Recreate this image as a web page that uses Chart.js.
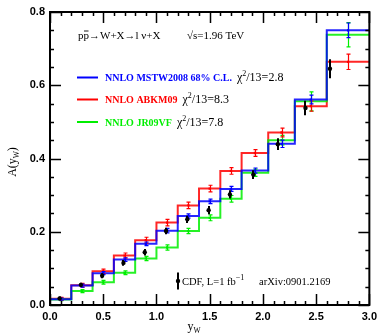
<!DOCTYPE html>
<html>
<head>
<meta charset="utf-8">
<script src="https://cdn.jsdelivr.net/npm/chart.js@4.4.1/dist/chart.umd.min.js"></script>
<style>
  html, body { margin: 0; padding: 0; background: #fff; }
  canvas { display: block; }
</style>
</head>
<body>
<canvas id="c" width="382" height="335" style="width:382px;height:335px"></canvas>
<script>
// W charge asymmetry A(y_W): CDF data vs. NNLO predictions (13 rapidity bins)
const binEdges = [0, 0.2, 0.4, 0.6, 0.8, 1.0, 1.2, 1.4, 1.6, 1.8, 2.05, 2.3, 2.6, 3.0];

const mstw    = [0.016, 0.053, 0.087, 0.124, 0.167, 0.203, 0.243, 0.283, 0.317, 0.367, 0.440, 0.561, 0.750];
const mstwErr = [0.003, 0.004, 0.004, 0.005, 0.005, 0.006, 0.006, 0.006, 0.007, 0.007, 0.010, 0.012, 0.020];

const abkm    = [0.017, 0.054, 0.092, 0.135, 0.177, 0.225, 0.272, 0.318, 0.366, 0.415, 0.471, 0.543, 0.664];
const abkmErr = [0.004, 0.005, 0.006, 0.007, 0.008, 0.009, 0.009, 0.009, 0.009, 0.009, 0.012, 0.014, 0.021];

const jr      = [0.015, 0.038, 0.062, 0.088, 0.127, 0.157, 0.202, 0.238, 0.290, 0.361, 0.450, 0.556, 0.738];
const jrErr   = [0.003, 0.004, 0.005, 0.005, 0.006, 0.007, 0.007, 0.008, 0.009, 0.010, 0.013, 0.026, 0.033];

const cdfX    = [0.09, 0.29, 0.49, 0.69, 0.89, 1.09, 1.29, 1.49, 1.69, 1.91, 2.14, 2.40, 2.63];
const cdf     = [0.018, 0.055, 0.080, 0.115, 0.144, 0.202, 0.234, 0.259, 0.302, 0.356, 0.439, 0.538, 0.645];
const cdfErr  = [0.005, 0.006, 0.007, 0.008, 0.009, 0.009, 0.010, 0.011, 0.011, 0.012, 0.016, 0.020, 0.026];

const xTicks = [0, 0.5, 1.0, 1.5, 2.0, 2.5, 3.0];
const yTicks = [0, 0.2, 0.4, 0.6, 0.8];

const seriesNames = ['NNLO MSTW2008 68% C.L.', 'NNLO ABKM09', 'NNLO JR09VF'];
const chi2Values  = ['2.8', '8.3', '7.8'];
const seriesColors = ['#0000ff', '#ff0000', '#00ee00'];

const SERIF = '"Liberation Serif", "Times New Roman", serif';
const SANS = '"Liberation Sans", Arial, sans-serif';

// histogram outline: one point per lower bin edge plus the closing edge
const steps = vals => binEdges.map((e, i) => ({ x: e, y: vals[Math.min(i, vals.length - 1)] }));
const centers = binEdges.slice(0, -1).map((e, i) => (e + binEdges[i + 1]) / 2);
const pts = (xs, vals) => vals.map((v, i) => ({ x: xs[i], y: v }));

function histDs(vals, color) {
  return { type: 'line', data: steps(vals), stepped: 'before', borderColor: color, borderWidth: 2,
           pointRadius: 0, fill: false, tension: 0 };
}
function pointDs(xs, vals, errs, color, opts) {
  return Object.assign({ type: 'scatter', data: pts(xs, vals), errors: errs,
    backgroundColor: color, borderColor: color, borderWidth: 0 }, opts);
}

// vertical error bars under each point set
const errorBars = {
  id: 'errorBars',
  beforeDatasetDraw(chart, args) {
    const ds = chart.data.datasets[args.index];
    if (!ds.errors) return;
    const ys = chart.scales.y, c = chart.ctx;
    c.save();
    c.strokeStyle = ds.borderColor;
    c.lineWidth = ds.barWidth;
    args.meta.data.forEach((el, i) => {
      const v = ds.data[i].y, e = ds.errors[i];
      const t = ys.getPixelForValue(v + e), b = ys.getPixelForValue(v - e);
      const x = Math.round(el.x) + (ds.barWidth % 2 ? 0.5 : 0);
      c.beginPath();
      c.moveTo(x, t); c.lineTo(x, b);
      if (ds.capWidth) {
        c.moveTo(x - ds.capWidth, t); c.lineTo(x + ds.capWidth, t);
        c.moveTo(x - ds.capWidth, b); c.lineTo(x + ds.capWidth, b);
      }
      c.stroke();
    });
    c.restore();
  }
};

// draw a sequence of text runs (font, colour, vertical shift) starting at x
function runsWidth(c, runs) {
  let w = 0;
  runs.forEach(r => { c.font = r.font; w += c.measureText(r.t).width + (r.gap || 0); });
  return w;
}
function drawRuns(c, x, y, runs) {
  runs.forEach(r => {
    c.font = r.font;
    c.fillStyle = r.color || '#000';
    c.fillText(r.t, x, y + (r.dy || 0));
    const w = c.measureText(r.t).width;
    if (r.over) {
      c.save(); c.strokeStyle = c.fillStyle; c.lineWidth = 0.9;
      c.beginPath(); c.moveTo(x + 0.5, y - 7.5); c.lineTo(x + w - 0.5, y - 7.5); c.stroke();
      c.restore();
    }
    x += w + (r.gap || 0);
  });
  return x;
}

// frame, inward ticks, titles, legend and annotations
const decorations = {
  id: 'decorations',
  afterDraw(chart) {
    const c = chart.ctx, a = chart.chartArea, xs = chart.scales.x, ys = chart.scales.y;
    c.save();
    c.strokeStyle = '#000';
    c.lineWidth = 1.5;
    c.beginPath();
    for (let k = 0; k <= 30; k++) {
      const v = k / 10, px = Math.round(xs.getPixelForValue(v)) + 0.5;
      const len = (k % 5 === 0) ? 11 : 4;
      c.moveTo(px, a.bottom); c.lineTo(px, a.bottom - len);
      c.moveTo(px, a.top); c.lineTo(px, a.top + len);
    }
    for (let k = 0; k <= 16; k++) {
      const v = k * 0.05, py = Math.round(ys.getPixelForValue(v)) + 0.5;
      const len = (k % 4 === 0) ? 11 : 4;
      c.moveTo(a.left, py); c.lineTo(a.left + len, py);
      c.moveTo(a.right, py); c.lineTo(a.right - len, py);
    }
    c.stroke();
    c.lineWidth = 2;
    c.strokeRect(a.left, a.top, a.right - a.left, a.bottom - a.top);

    c.textBaseline = 'alphabetic';
    c.textAlign = 'left';
    const f11 = '11px ' + SERIF, f8 = '8px ' + SERIF;

    // process and energy
    drawRuns(c, 78, 38.5, [
      { t: 'p', font: f11 }, { t: 'p', font: f11, over: true },
      { t: '\u2192W+X\u2192l \u03BD+X', font: f11 }
    ]);
    drawRuns(c, 187, 38.5, [{ t: '\u221As=1.96 TeV', font: f11 }]);

    // legend
    const rowsY = [77.5, 99.5, 122];
    const fLeg = 'bold 10px ' + SERIF, fChi = '12px ' + SERIF, fSup = '8px ' + SERIF;
    seriesNames.forEach((name, i) => {
      const y = rowsY[i];
      c.strokeStyle = seriesColors[i];
      c.lineWidth = 2;
      c.beginPath(); c.moveTo(77, y); c.lineTo(98, y); c.stroke();
      const xe = drawRuns(c, 105, y + 3.5, [{ t: name, font: fLeg, color: seriesColors[i] }]);
      drawRuns(c, xe + 5, y + 3.5, [
        { t: '\u03C7', font: fChi }, { t: '2', font: fSup, dy: -5 },
        { t: '/13=' + chi2Values[i], font: fChi }
      ]);
    });

    // data legend
    c.strokeStyle = '#000';
    c.lineWidth = 2;
    c.beginPath(); c.moveTo(178, 272.5); c.lineTo(178, 289.5); c.stroke();
    c.fillStyle = '#000';
    c.beginPath(); c.arc(178, 281, 2.2, 0, Math.PI * 2); c.fill();
    drawRuns(c, 182, 284.5, [
      { t: 'CDF, L=1 fb', font: '10.5px ' + SERIF }, { t: '\u22121', font: f8, dy: -5 }
    ]);
    drawRuns(c, 259, 284.5, [{ t: 'arXiv:0901.2169', font: '10.5px ' + SERIF }]);

    // axis titles
    const xRuns = [{ t: 'y', font: '12px ' + SERIF }, { t: 'W', font: '7.5px ' + SERIF, dy: 2.5 }];
    drawRuns(c, 194 - runsWidth(c, xRuns) / 2, 330, xRuns);
    c.translate(16, 162);
    c.rotate(-Math.PI / 2);
    const yRuns = [{ t: 'A(y', font: '12px ' + SERIF }, { t: 'W', font: '7.5px ' + SERIF, dy: 2.5 },
                   { t: ')', font: '12px ' + SERIF }];
    drawRuns(c, -runsWidth(c, yRuns) / 2, 0, yRuns);
    c.restore();
  }
};

new Chart(document.getElementById('c'), {
  type: 'scatter',
  data: {
    datasets: [
      // first listed is drawn on top
      pointDs(cdfX, cdf, cdfErr, '#000', { pointRadius: 2.2, pointStyle: 'circle', barWidth: 2, capWidth: 0 }),
      pointDs(centers, mstw, mstwErr, '#0000ff', { pointRadius: 1.6, pointStyle: 'rect', barWidth: 1.2, capWidth: 2 }),
      pointDs(centers, abkm, abkmErr, '#ff0000', { pointRadius: 1.6, pointStyle: 'rect', barWidth: 1.2, capWidth: 2 }),
      pointDs(centers, jr, jrErr, '#00ee00', { pointRadius: 1.6, pointStyle: 'rect', barWidth: 1.2, capWidth: 2 }),
      histDs(mstw, 'rgba(0,0,255,0.85)'),
      histDs(jr, 'rgba(0,238,0,0.85)'),
      histDs(abkm, 'rgba(255,0,0,0.85)')
    ]
  },
  options: {
    responsive: false,
    animation: false,
    devicePixelRatio: 1,
    layout: { padding: { left: 0, right: 8, top: 12, bottom: 0 } },
    plugins: { legend: { display: false }, tooltip: { enabled: false } },
    scales: {
      x: {
        type: 'linear', min: 0, max: 3,
        afterBuildTicks: s => { s.ticks = xTicks.map(v => ({ value: v })); },
        ticks: { callback: v => v.toFixed(1), color: '#000', padding: 5, maxRotation: 0,
                 font: { family: SANS, size: 11, weight: 'bold' } },
        grid: { display: false, drawTicks: false },
        border: { display: false },
        afterFit: s => { s.height = 30; }
      },
      y: {
        type: 'linear', min: 0, max: 0.8,
        afterBuildTicks: s => { s.ticks = yTicks.map(v => ({ value: v })); },
        ticks: { callback: v => v.toFixed(1), color: '#000', padding: 5,
                 font: { family: SANS, size: 11, weight: 'bold' } },
        grid: { display: false, drawTicks: false },
        border: { display: false },
        afterFit: s => { s.width = 50; }
      }
    }
  },
  plugins: [errorBars, decorations]
});
</script>
</body>
</html>
